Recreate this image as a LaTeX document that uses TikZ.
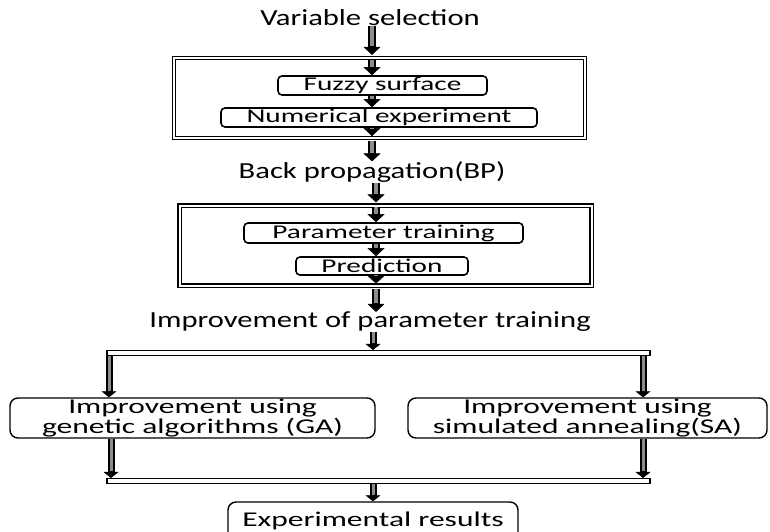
\documentclass[tikz,border=0pt]{standalone}
\usepackage{fontspec}
\setmainfont{Carlito}
\usepackage{graphicx}
\usetikzlibrary{arrows.meta,calc}
\newcommand{\wt}[1]{\scalebox{1.33}[1]{#1}}
\newcommand{\wb}[1]{\scalebox{1.5}[1]{#1}}
\begin{document}
\begin{tikzpicture}[x=1pt,y=-1pt,
  title/.style={inner sep=0pt, font=\fontsize{23}{26}\selectfont},
  stepbox/.style={draw, line width=1.6pt, rounded corners=4pt, inner sep=0pt, font=\fontsize{19.5}{22}\selectfont},
  bigbox/.style={draw, line width=1.4pt, rounded corners=8pt, inner sep=0pt, font=\fontsize{21}{20.5}\selectfont, align=center},
  framebox/.style={draw, line width=1.2pt, double=white, double distance=2pt, inner sep=0pt},
  bar/.style={draw, line width=1.1pt, fill=white, inner sep=0pt, minimum height=5pt},
  barrow/.style={-{Triangle[length=8pt,width=17pt]}, line width=0.5pt,
     preaction={draw, -, line width=8pt, shorten >=7.5pt},
     postaction={draw, -, line width=4pt, black!45, shorten >=8.5pt}},
  sarrow/.style={-{Triangle[length=6pt,width=15pt]}, line width=0.5pt,
     preaction={draw, -, line width=7pt, shorten >=5.5pt},
     postaction={draw, -, line width=3pt, black!45, shorten >=6.5pt}}
]
\useasboundingbox (0,0) rectangle (770,531);
\clip (0,0) rectangle (770,531);
\coordinate (ax) at (372,0);
\coordinate (bx) at (376,0);
\coordinate (cx) at (373,0);
\coordinate (lx) at (109,0);
\coordinate (lx2) at (111,0);
\coordinate (rx) at (643,0);

\node[title] (t1) at (370,18) {\wt{Variable selection}};
\node[framebox, minimum width=411pt, minimum height=80pt] (f1) at (379.5,98) {};
\node[stepbox, minimum width=209pt, minimum height=19pt] (fz) at (382.5,85.5) {\wb{Fuzzy surface}};
\node[stepbox, minimum width=316pt, minimum height=19pt] (ne) at (379,117.5) {\wb{Numerical experiment}};
\node[title] (t2) at (372,172) {\wt{Back propagation(BP)}};
\node[framebox, minimum width=412pt, minimum height=80pt] (f2) at (385.5,245.5) {};
\node[stepbox, minimum width=279pt, minimum height=20pt] (pt) at (383.5,233) {\wb{Parameter training}};
\node[stepbox, minimum width=172pt, minimum height=18pt] (pr) at (382,266) {\wb{Prediction}};
\node[title] (t3) at (370,322) {\wt{Improvement of parameter training}};
\node[bar, minimum width=543pt] (b1) at (378.5,353) {};
\node[bigbox, minimum width=365pt, minimum height=40pt] (ga) at (192.5,418) {\wb{Improvement using}\\\wb{genetic algorithms (GA)}};
\node[bigbox, minimum width=359pt, minimum height=40pt] (sa) at (587.5,418) {\wb{Improvement using}\\\wb{simulated annealing(SA)}};
\node[bar, minimum width=543pt] (b2) at (378.5,481) {};
\node[bigbox, minimum width=290pt, minimum height=38pt] (ex) at (373,521) {\wb{Experimental results}};

\draw[barrow] (t1.south -| ax) -- ([yshift=2.5pt]f1.north -| ax);
\draw[barrow] ([yshift=-2.5pt]f1.north -| ax) -- (fz.north -| ax);
\draw[barrow] (fz.south -| ax) -- (ne.north -| ax);
\draw[barrow] (ne.south -| ax) -- ([yshift=2.5pt]f1.south -| ax);
\draw[barrow] ([yshift=-2.5pt]f1.south -| ax) -- (t2.north -| ax);
\draw[barrow] (t2.south -| bx) -- ([yshift=2.5pt]f2.north -| bx);
\draw[barrow] ([yshift=-2.5pt]f2.north -| bx) -- (pt.north -| bx);
\draw[barrow] (pt.south -| bx) -- (pr.north -| bx);
\draw[barrow] (pr.south -| bx) -- ([yshift=2.5pt]f2.south -| bx);
\draw[barrow] ([yshift=-2.5pt]f2.south -| bx) -- (t3.north -| bx);
\draw[sarrow] (t3.south -| cx) -- (b1.north -| cx);
\draw[sarrow] (b1.south -| lx) -- (ga.north -| lx);
\draw[sarrow] (b1.south -| rx) -- (sa.north -| rx);
\draw[sarrow] (ga.south -| lx2) -- (b2.north -| lx2);
\draw[sarrow] (sa.south -| rx) -- (b2.north -| rx);
\draw[sarrow] (b2.south -| cx) -- (ex.north -| cx);
\end{tikzpicture}
\end{document}
